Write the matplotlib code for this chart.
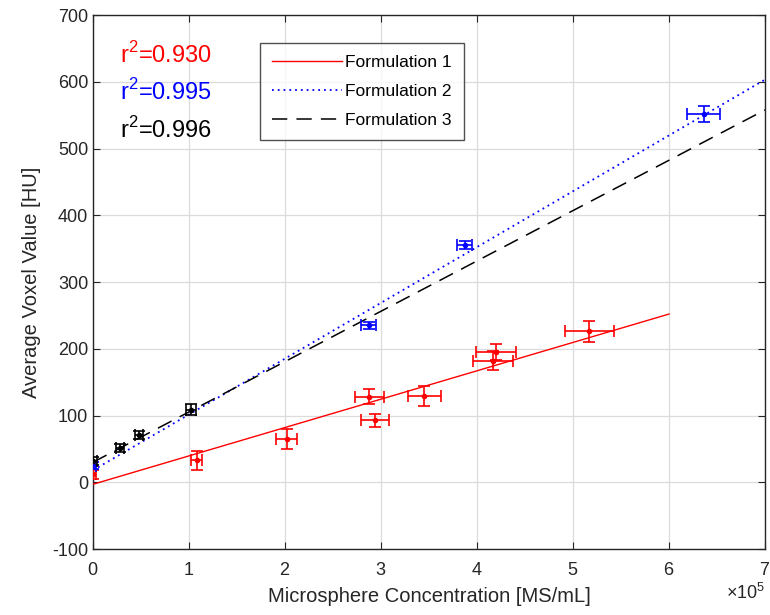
import numpy as np
import matplotlib
matplotlib.use("Agg")
import matplotlib.pyplot as plt
from matplotlib.ticker import ScalarFormatter

plt.rcParams['font.family'] = ['Liberation Sans', 'DejaVu Sans']
plt.rcParams['mathtext.fontset'] = 'custom'
plt.rcParams['mathtext.rm'] = 'Liberation Sans'
plt.rcParams['axes.unicode_minus'] = False

SCALE = 1e5

# Formulation 1 (red)
f1_x = [0.0, 1.08, 2.02, 2.88, 2.94, 3.45, 4.165, 4.20, 5.17]
f1_y = [12, 33, 65, 128, 93, 129, 182, 195, 226]
f1_xerr = [0.03, 0.055, 0.11, 0.15, 0.145, 0.17, 0.205, 0.21, 0.257]
f1_yerr = [7, 14, 15, 11, 10, 15, 14, 11.5, 16]

# Formulation 2 (blue)
f2_x = [0.0, 2.87, 3.87, 6.36]
f2_y = [25, 235, 356, 551]
f2_xerr = [0.03, 0.078, 0.08, 0.17]
f2_yerr = [5, 5.7, 6, 12]

# Formulation 3 (black)
f3_x = [0.0, 0.283, 0.477, 1.02]
f3_y = [32, 51.5, 71.5, 109]
f3_xerr = [0.04, 0.04, 0.04, 0.05]
f3_yerr = [6, 6, 6, 7.5]

# Linear fits: slope (HU per 1e5 MS/mL), intercept (HU), x range
fit_slope = [42.5, 83.6, 75.4]
fit_intercept = [-3, 18, 30]
fit_xmax = [6.0, 7.0, 7.0]
r2_values = [0.930, 0.995, 0.996]

series_names = ["Formulation 1", "Formulation 2", "Formulation 3"]
colors = ["#ff0000", "#0000ff", "#000000"]
styles = ["-", (0, (1, 2.2)), (0, (10, 6))]
widths = [1.0, 1.3, 1.1]

AX_COLOR = "#262626"

fig = plt.figure(figsize=(7.7, 6.15), dpi=100)
ax = fig.add_axes([0.1208, 0.1073, 0.8727, 0.8683])

datasets = [(f1_x, f1_y, f1_xerr, f1_yerr),
            (f2_x, f2_y, f2_xerr, f2_yerr),
            (f3_x, f3_y, f3_xerr, f3_yerr)]

lines = []
for i, (xs, ys, xe, ye) in enumerate(datasets):
    xs = np.asarray(xs) * SCALE
    xe = np.asarray(xe) * SCALE
    xfit = np.linspace(0, fit_xmax[i] * SCALE, 200)
    yfit = fit_slope[i] * xfit / SCALE + fit_intercept[i]
    ln, = ax.plot(xfit, yfit, color=colors[i], linestyle=styles[i],
                  linewidth=widths[i], zorder=3)
    lines.append(ln)
    ax.errorbar(xs, ys, xerr=xe, yerr=ye, fmt='.', color=colors[i],
                markersize=6, elinewidth=1.2, capsize=4, capthick=1.2,
                zorder=4, clip_on=True)

ax.set_xlim(0, 7 * SCALE)
ax.set_ylim(-100, 700)
ax.set_xticks(np.arange(0, 8) * SCALE)
ax.set_yticks(np.arange(-100, 701, 100))

fmt = ScalarFormatter(useMathText=True)
fmt.set_powerlimits((0, 0))
ax.xaxis.set_major_formatter(fmt)
ax.xaxis.get_offset_text().set_fontsize(13)
ax.xaxis.get_offset_text().set_color(AX_COLOR)

ax.grid(True, color="#dcdcdc", linewidth=0.9)
ax.set_axisbelow(True)
for sp in ax.spines.values():
    sp.set_color(AX_COLOR)
    sp.set_linewidth(1.0)
ax.tick_params(direction='in', length=5, colors=AX_COLOR, labelsize=13,
               top=True, right=True, labeltop=False, labelright=False)
ax.tick_params(axis='x', pad=9)

ax.set_xlabel("Microsphere Concentration [MS/mL]", fontsize=14.5, color=AX_COLOR, labelpad=6)
ax.set_ylabel("Average Voxel Value [HU]", fontsize=14.5, color=AX_COLOR, labelpad=8)

# r^2 annotations
r2_y = [0.925, 0.855, 0.785]
for i in range(3):
    ax.text(0.040, r2_y[i], r"r$^{2}$=" + f"{r2_values[i]:.3f}", transform=ax.transAxes,
            color=colors[i], fontsize=17, ha='left', va='center')

leg = ax.legend(lines, series_names, loc='upper left', bbox_to_anchor=(0.2485, 0.948),
                fontsize=12.5, frameon=True, fancybox=False, edgecolor=AX_COLOR,
                handlelength=4.0, handletextpad=0.2, borderpad=0.7, labelspacing=0.8,
                borderaxespad=0)
leg.get_frame().set_linewidth(1.0)

fig.savefig("out.png", dpi=100)
